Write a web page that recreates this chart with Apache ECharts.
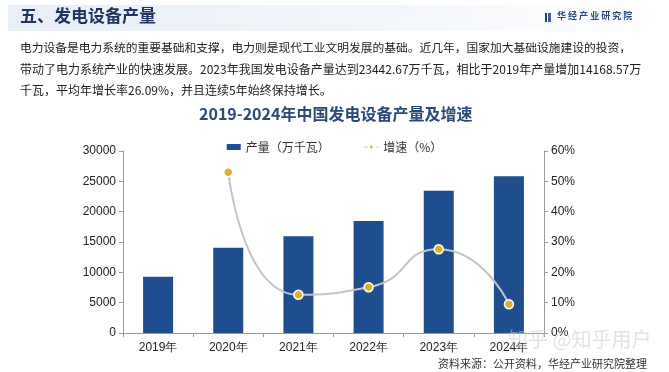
<!DOCTYPE html>
<html><head><meta charset="utf-8">
<script src="https://cdn.jsdelivr.net/npm/echarts@6/dist/echarts.min.js"></script>
<style>html,body{margin:0;padding:0;background:#fff;}#c{width:669px;height:372px;}</style>
</head><body><div id="c"></div>
<script>
const categories = ['2019年','2020年','2021年','2022年','2023年','2024年'];
const output = [9274, 14060, 15940, 18460, 23443, 25830];
const growth = [null, 53.0, 12.6, 15.1, 27.6, 9.5];
const leftTicks = [0, 30000, 5000];
const rightTicks = [0, 60, 10];
const paragraph = [
  '电力设备是电力系统的重要基础和支撑，电力则是现代工业文明发展的基础。近几年，国家加大基础设施建设的投资，',
  '带动了电力系统产业的快速发展。2023年我国发电设备产量达到23442.67万千瓦，相比于2019年产量增加14168.57万',
  '千瓦，平均年增长率26.09%，并且连续5年始终保持增长。'
];
const FONT = '"Noto Sans CJK SC", sans-serif';
const chart = echarts.init(document.getElementById('c'));
const graphics = [
  {type:'rect', shape:{x:8,y:5,width:661,height:26}, style:{fill:new echarts.graphic.LinearGradient(0,0,1,0,[{offset:0,color:'#e9eff7'},{offset:0.6,color:'#f3f6fa'},{offset:1,color:'#ffffff'}])}, z:0},
  {type:'text', left:20, top:7, style:{text:'五、发电设备产量', font:'bold 17px '+FONT, fill:'#1f3560'}},
  {type:'rect', shape:{x:545,y:13,width:2,height:9}, style:{fill:'#1f3f73'}},
  {type:'rect', shape:{x:548,y:13,width:3,height:9}, style:{fill:'#3a5f99'}},
  {type:'text', left:557, top:11, style:{text:'华 经 产 业 研 究 院', font:'bold 9px '+FONT, fill:'#2a4b7f'}},
  {type:'text', left:199, top:106, style:{text:'2019-2024年中国发电设备产量及增速', font:'bold 16px '+FONT, fill:'#2b4a78'}},
  {type:'text', right:22, top:358, style:{text:'资料来源：公开资料，华经产业研究院整理', font:'11px '+FONT, fill:'#333'}},
  {type:'text', left:508, top:329, style:{text:'知乎 @知乎用户', font:'20px '+FONT, fill:'rgba(200,200,200,0.5)'}, z:100}
];
paragraph.forEach((t,i)=>graphics.push({type:'text', left:20, top:42+i*21, style:{text:t, font:(i===0?'11.75px ':'12px ')+FONT, fill:'#222'}}));
chart.setOption({
  animation:false,
  textStyle:{fontFamily:FONT},
  graphic: graphics,
  legend:{
    top:136, left:'center', itemGap:34, itemWidth:14, itemHeight:6,
    textStyle:{fontSize:12, color:'#333', fontFamily:FONT},
    data:[
      {name:'产量（万千瓦）', icon:'rect'},
      {name:'增速（%）', itemStyle:{color:'#d9b12a'}, lineStyle:{color:'#e8c96a', type:'dashed', width:1}}
    ]
  },
  grid:{left:123, right:125, top:151, bottom:39},
  xAxis:{
    type:'category', data:categories, boundaryGap:true,
    axisLine:{lineStyle:{color:'#999'}},
    axisTick:{show:true, length:4, lineStyle:{color:'#999'}},
    axisLabel:{color:'#222', fontSize:12, fontFamily:'"Liberation Sans", Arial', margin:9}
  },
  yAxis:[
    {type:'value', min:leftTicks[0], max:leftTicks[1], interval:leftTicks[2],
      splitLine:{show:false}, axisLine:{show:true, lineStyle:{color:'#999'}},
      axisTick:{show:true, length:4, lineStyle:{color:'#999'}},
      axisLabel:{color:'#222', fontSize:12, fontFamily:'"Liberation Sans", Arial', margin:7, formatter:v=>String(v)}},
    {type:'value', min:rightTicks[0], max:rightTicks[1], interval:rightTicks[2],
      splitLine:{show:false}, axisLine:{show:true, lineStyle:{color:'#999'}},
      axisTick:{show:true, length:4, lineStyle:{color:'#999'}},
      axisLabel:{color:'#222', fontSize:12, fontFamily:'"Liberation Sans", Arial', margin:7, formatter:'{value}%'}}
  ],
  series:[
    {name:'产量（万千瓦）', type:'bar', data:output, barWidth:30, itemStyle:{color:'#1f4e8f'}},
    {name:'增速（%）', type:'line', yAxisIndex:1, data:growth, smooth:0.6, connectNulls:false,
      symbol:'circle', symbolSize:9,
      lineStyle:{color:'#c4c4c4', width:2},
      itemStyle:{color:'#d9b12a', borderColor:'#fff', borderWidth:1.5}}
  ]
});
</script></body></html>
